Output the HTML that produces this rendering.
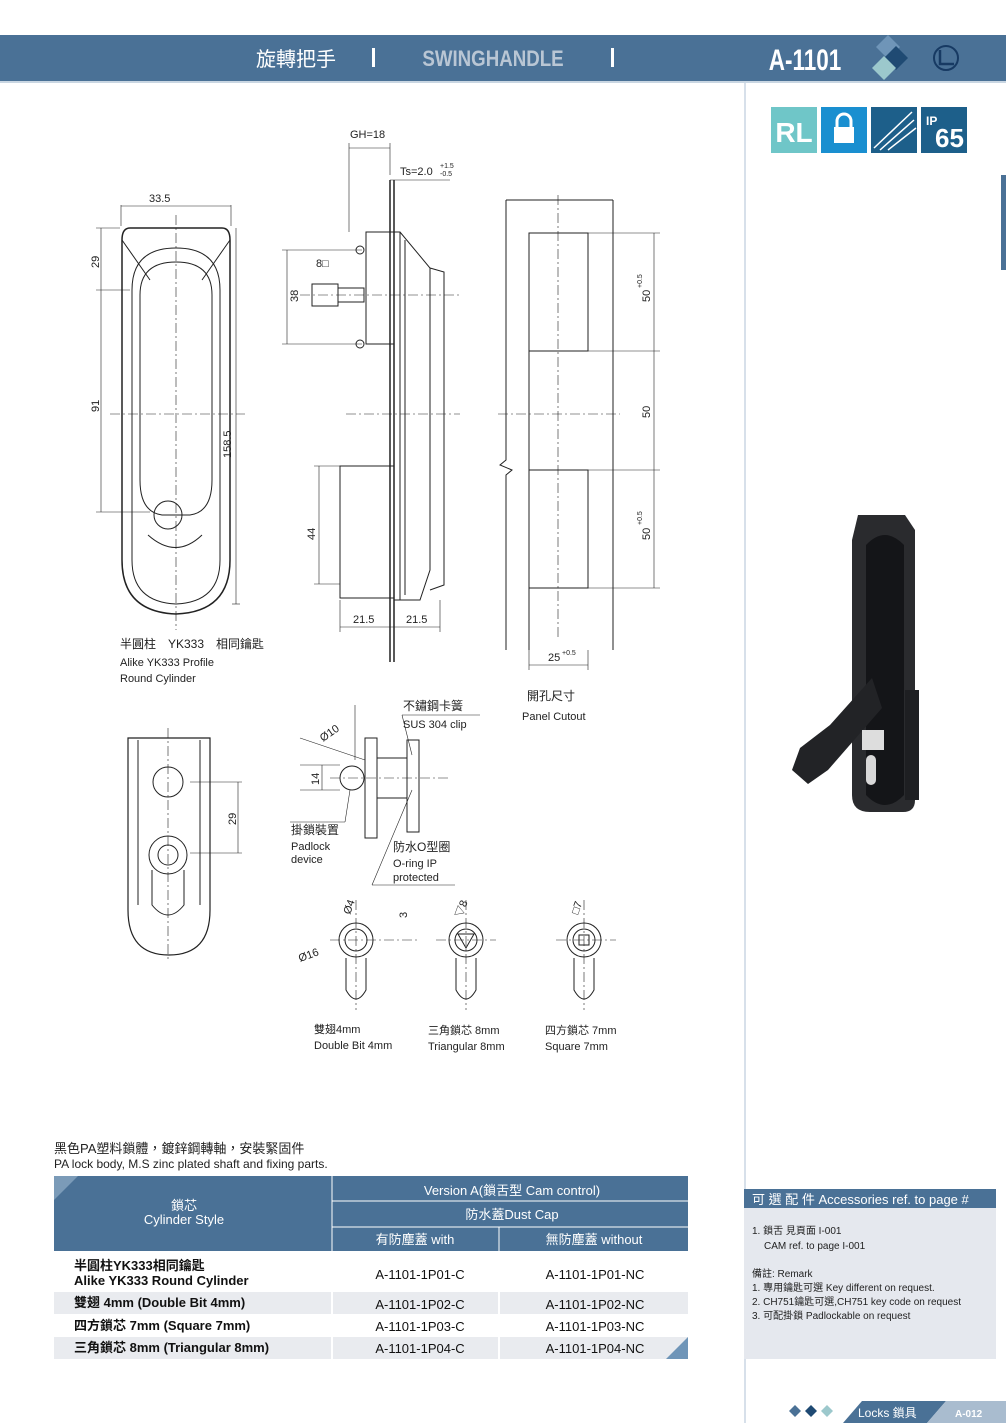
<!DOCTYPE html>
<html><head><meta charset="utf-8">
<style>
body{margin:0;background:#fff}
svg{display:block}
text{font-family:"Liberation Sans","Noto Sans CJK TC",sans-serif}
</style></head>
<body>
<svg width="1006" height="1423" viewBox="0 0 1006 1423" xmlns="http://www.w3.org/2000/svg">
<rect width="1006" height="1423" fill="#fff"/>
<!-- header -->
<rect x="0" y="35" width="1006" height="46" fill="#4a7196"/>
<rect x="0" y="81" width="1006" height="2" fill="#c9d6e2"/>
<text x="296" y="66" font-size="20" fill="#fff" text-anchor="middle">旋轉把手</text>
<rect x="372" y="48" width="3" height="19" fill="#fff"/>
<text x="493" y="66" font-size="22" font-weight="bold" fill="#b9c6d4" text-anchor="middle" transform="translate(493 0) scale(0.85 1) translate(-493 0)">SWINGHANDLE</text>
<rect x="611" y="48" width="3" height="19" fill="#fff"/>
<text x="805" y="70" font-size="30" font-weight="bold" fill="#fff" text-anchor="middle" transform="translate(805 0) scale(0.75 1) translate(-805 0)">A-1101</text>
<polygon points="888,35 900,47 888,59 876,47" fill="#6f95b8"/>
<polygon points="896,46 908,58 896,70 884,58" fill="#1f4a73"/>
<polygon points="884,56 896,68 884,80 872,68" fill="#9cc8cc"/>
<circle cx="946" cy="58" r="12" fill="none" stroke="#173a63" stroke-width="2"/>
<path d="M940 50 V64 H954" fill="none" stroke="#173a63" stroke-width="2.5"/>
<!-- right column divider -->
<rect x="744" y="83" width="2" height="1340" fill="#d7e0ea"/>
<rect x="1001" y="175" width="5" height="95" fill="#4a7196"/>
<!-- icons -->
<rect x="771" y="107" width="46" height="46" fill="#6fc6c8"/><text x="794" y="142" font-size="28" font-weight="bold" fill="#fff" text-anchor="middle">RL</text>
<rect x="821" y="107" width="46" height="46" fill="#1a8fd0"/>
<rect x="834" y="127" width="20" height="16" fill="#fff"/><path d="M837 127 V121 a7 7 0 0 1 14 0 V127" fill="none" stroke="#fff" stroke-width="3"/>
<rect x="871" y="107" width="46" height="46" fill="#1d5f8a"/>
<path d="M874 148 L912 112 M880 150 L914 120 M888 150 L916 128" stroke="#fff" stroke-width="1.5"/>
<rect x="921" y="107" width="46" height="46" fill="#1d5f8a"/><text x="926" y="125" font-size="12" font-weight="bold" fill="#fff">IP</text><text x="935" y="147" font-size="26" font-weight="bold" fill="#fff">65</text>

<g stroke="#222" fill="none" stroke-width="1">
<!-- front view -->
<path d="M122 240 Q122 228 130 228 H222 Q230 228 230 240 V560 Q230 612 176 614 Q122 612 122 560 Z" stroke-width="1.5"/>
<path d="M132 290 Q132 248 176 248 Q220 248 220 290 V560 Q220 602 176 604 Q132 602 132 560 Z"/>
<path d="M140 295 Q140 262 176 262 Q212 262 212 295 V480 Q212 512 190 515 H162 Q140 512 140 480 Z"/>
<path d="M122 240 L150 280 M230 240 L202 280"/>
<circle cx="168" cy="515" r="14"/>
<path d="M148 535 Q176 560 202 535"/>
<line x1="176" y1="215" x2="176" y2="630" stroke-dasharray="10 3 2 3" stroke-width="0.6"/>
<line x1="110" y1="414" x2="245" y2="414" stroke-dasharray="10 3 2 3" stroke-width="0.6"/>
<line x1="121" y1="205" x2="121" y2="226" stroke-width="0.6"/><line x1="231" y1="205" x2="231" y2="226" stroke-width="0.6"/>
<line x1="121" y1="206" x2="231" y2="206" stroke-width="0.6"/>
<line x1="96" y1="228" x2="120" y2="228" stroke-width="0.6"/><line x1="96" y1="290" x2="130" y2="290" stroke-width="0.6"/><line x1="96" y1="512" x2="150" y2="512" stroke-width="0.6"/>
<line x1="101" y1="228" x2="101" y2="512" stroke-width="0.6"/>
<line x1="232" y1="604" x2="240" y2="604" stroke-width="0.6"/><line x1="236" y1="228" x2="236" y2="604" stroke-width="0.6"/>
<!-- side view -->
<line x1="390" y1="180" x2="390" y2="662" stroke-width="1.5"/><line x1="394" y1="180" x2="394" y2="662" stroke-width="1.5"/>
<path d="M394 232 H400 L430 268 V570 L420 600 H394"/>
<path d="M400 232 V600 M405 240 V595"/>
<path d="M430 268 L444 272 V585 L430 590"/>
<rect x="366" y="232" width="28" height="112"/>
<rect x="340" y="466" width="54" height="132"/>
<rect x="312" y="284" width="26" height="22"/><rect x="338" y="288" width="26" height="14"/>
<circle cx="360" cy="250" r="4"/><circle cx="360" cy="344" r="4"/>
<line x1="300" y1="295" x2="460" y2="295" stroke-dasharray="10 3 2 3" stroke-width="0.6"/>
<line x1="346" y1="414" x2="460" y2="414" stroke-dasharray="10 3 2 3" stroke-width="0.6"/>
<line x1="349" y1="143" x2="349" y2="232" stroke-width="0.6"/><line x1="390" y1="143" x2="390" y2="175" stroke-width="0.6"/>
<line x1="349" y1="148" x2="390" y2="148" stroke-width="0.6"/>
<line x1="390" y1="180" x2="450" y2="180" stroke-width="0.6"/>
<line x1="282" y1="250" x2="362" y2="250" stroke-width="0.6"/><line x1="282" y1="344" x2="362" y2="344" stroke-width="0.6"/><line x1="287" y1="250" x2="287" y2="344" stroke-width="0.6"/>
<line x1="314" y1="466" x2="340" y2="466" stroke-width="0.6"/><line x1="314" y1="584" x2="340" y2="584" stroke-width="0.6"/><line x1="319" y1="466" x2="319" y2="584" stroke-width="0.6"/>
<line x1="340" y1="600" x2="340" y2="632" stroke-width="0.6"/><line x1="440" y1="600" x2="440" y2="632" stroke-width="0.6"/>
<line x1="340" y1="627" x2="440" y2="627" stroke-width="0.6"/>
<!-- panel cutout -->
<path d="M506 200 V460 L500 465 L512 470 L506 475 V650"/>
<line x1="506" y1="200" x2="613" y2="200"/><line x1="613" y1="200" x2="613" y2="650"/>
<rect x="529" y="233" width="59" height="118" fill="#fff"/>
<rect x="529" y="470" width="59" height="118" fill="#fff"/>
<line x1="529" y1="351" x2="529" y2="470"/><line x1="529" y1="588" x2="529" y2="650"/>
<line x1="498" y1="414" x2="620" y2="414" stroke-dasharray="10 3 2 3" stroke-width="0.6"/>
<line x1="558" y1="195" x2="558" y2="640" stroke-dasharray="10 3 2 3" stroke-width="0.6"/>
<line x1="588" y1="233" x2="660" y2="233" stroke-width="0.6"/><line x1="588" y1="351" x2="660" y2="351" stroke-width="0.6"/><line x1="588" y1="470" x2="660" y2="470" stroke-width="0.6"/><line x1="588" y1="588" x2="660" y2="588" stroke-width="0.6"/>
<line x1="654" y1="233" x2="654" y2="588" stroke-width="0.6"/>
<line x1="529" y1="650" x2="529" y2="670" stroke-width="0.6"/><line x1="588" y1="650" x2="588" y2="670" stroke-width="0.6"/><line x1="529" y1="665" x2="588" y2="665" stroke-width="0.6"/>
<!-- lower left view -->
<path d="M128 738 H210 V910 Q210 955 169 955 Q128 955 128 910 Z" stroke-width="1.2"/>
<path d="M138 740 V905 M200 740 V905"/>
<circle cx="168" cy="782" r="15"/><circle cx="168" cy="855" r="19"/><circle cx="168" cy="855" r="10"/>
<path d="M152 870 V905 Q168 925 184 905 V870"/>
<line x1="168" y1="728" x2="168" y2="960" stroke-dasharray="10 3 2 3" stroke-width="0.6"/>
<line x1="190" y1="782" x2="242" y2="782" stroke-width="0.6"/><line x1="190" y1="853" x2="242" y2="853" stroke-width="0.6"/><line x1="238" y1="782" x2="238" y2="853" stroke-width="0.6"/>
<!-- padlock detail -->
<circle cx="352" cy="778" r="12"/>
<rect x="365" y="738" width="12" height="100"/><rect x="377" y="758" width="30" height="40"/>
<rect x="407" y="740" width="12" height="92"/>
<line x1="330" y1="778" x2="450" y2="778" stroke-dasharray="10 3 2 3" stroke-width="0.6"/>
<line x1="300" y1="765" x2="340" y2="765" stroke-width="0.6"/><line x1="300" y1="790" x2="340" y2="790" stroke-width="0.6"/><line x1="322" y1="765" x2="322" y2="790" stroke-width="0.6"/>
<line x1="300" y1="738" x2="365" y2="760" stroke-width="0.6"/>
<line x1="355" y1="705" x2="355" y2="760" stroke-width="0.6"/>
<line x1="402" y1="715" x2="480" y2="715" stroke-width="0.6"/><line x1="402" y1="715" x2="412" y2="755" stroke-width="0.6"/>
<line x1="290" y1="822" x2="345" y2="822" stroke-width="0.6"/><line x1="345" y1="822" x2="350" y2="790" stroke-width="0.6"/>
<line x1="372" y1="885" x2="455" y2="885" stroke-width="0.6"/><line x1="372" y1="885" x2="412" y2="790" stroke-width="0.6"/>
<!-- cylinder types -->
<g>
<circle cx="356" cy="940" r="17"/><circle cx="356" cy="940" r="11"/><path d="M346 958 V990 Q356 1008 366 990 V958"/>
<line x1="356" y1="900" x2="356" y2="1010" stroke-dasharray="10 3 2 3" stroke-width="0.6"/><line x1="330" y1="940" x2="420" y2="940" stroke-dasharray="10 3 2 3" stroke-width="0.6"/>
<circle cx="466" cy="940" r="17"/><circle cx="466" cy="940" r="11"/><path d="M458 934 H474 L466 948 Z"/><path d="M456 958 V990 Q466 1008 476 990 V958"/>
<line x1="466" y1="900" x2="466" y2="1010" stroke-dasharray="10 3 2 3" stroke-width="0.6"/><line x1="436" y1="940" x2="496" y2="940" stroke-dasharray="10 3 2 3" stroke-width="0.6"/>
<circle cx="584" cy="940" r="17"/><circle cx="584" cy="940" r="11"/><rect x="579" y="935" width="10" height="10"/><path d="M574 958 V990 Q584 1008 594 990 V958"/>
<line x1="584" y1="900" x2="584" y2="1010" stroke-dasharray="10 3 2 3" stroke-width="0.6"/><line x1="556" y1="940" x2="616" y2="940" stroke-dasharray="10 3 2 3" stroke-width="0.6"/>
</g>
</g>
<!-- drawing labels -->
<g font-size="11" fill="#222">
<text x="149" y="202">33.5</text>
<text x="350" y="138">GH=18</text>
<text x="400" y="175">Ts=2.0</text><text x="440" y="168" font-size="7">+1.5</text><text x="440" y="176" font-size="7">-0.5</text>
<text x="316" y="267">8□</text>
<text x="353" y="623">21.5</text><text x="406" y="623">21.5</text>
<text x="548" y="661">25</text><text x="562" y="655" font-size="7">+0.5</text>
<text transform="translate(99 268) rotate(-90)">29</text>
<text transform="translate(99 412) rotate(-90)">91</text>
<text transform="translate(231 458) rotate(-90)">158.5</text>
<text transform="translate(298 302) rotate(-90)">38</text>
<text transform="translate(315 540) rotate(-90)">44</text>
<text transform="translate(650 302) rotate(-90)">50</text><text transform="translate(642 288) rotate(-90)" font-size="7">+0.5</text>
<text transform="translate(650 418) rotate(-90)">50</text>
<text transform="translate(650 540) rotate(-90)">50</text><text transform="translate(642 525) rotate(-90)" font-size="7">+0.5</text>
<text transform="translate(236 825) rotate(-90)">29</text>
<text transform="translate(319 785) rotate(-90)">14</text>
<text transform="translate(323 742) rotate(-35)">Ø10</text>
<text transform="translate(350 915) rotate(-70)">Ø4</text>
<text transform="translate(300 962) rotate(-20)">Ø16</text>
<text transform="translate(407 918) rotate(-90)">3</text>
<text transform="translate(462 918) rotate(-70)">▽8</text>
<text transform="translate(578 915) rotate(-70)">□7</text>
<text x="120" y="648" font-size="12">半圓柱　YK333　相同鑰匙</text>
<text x="120" y="666">Alike YK333 Profile</text>
<text x="120" y="682">Round Cylinder</text>
<text x="403" y="710" font-size="12">不鏽鋼卡簧</text>
<text x="403" y="728">SUS 304 clip</text>
<text x="527" y="700" font-size="12">開孔尺寸</text>
<text x="522" y="720">Panel Cutout</text>
<text x="291" y="834" font-size="12">掛鎖裝置</text>
<text x="291" y="850">Padlock</text><text x="291" y="863">device</text>
<text x="393" y="851" font-size="12">防水O型圈</text>
<text x="393" y="867">O-ring IP</text><text x="393" y="881">protected</text>
<text x="314" y="1033">雙翅4mm</text><text x="314" y="1049">Double Bit 4mm</text>
<text x="428" y="1034">三角鎖芯 8mm</text><text x="428" y="1050">Triangular 8mm</text>
<text x="545" y="1034">四方鎖芯 7mm</text><text x="545" y="1050">Square 7mm</text>
</g>
<!-- product photo -->
<g>
<path d="M858 515 H905 L915 530 V800 Q915 812 903 812 H870 Q852 812 852 795 V540 Z" fill="#2a2b2e"/>
<rect x="905" y="690" width="14" height="110" fill="#1e1f22"/>
<path d="M866 545 Q885 525 904 545 V795 Q885 815 866 795 Z" fill="#141518"/>
<path d="M872 678 L830 725 L800 748 L792 770 L808 784 L828 770 L882 708 Z" fill="#222326"/>
<rect x="862" y="730" width="22" height="20" fill="#ddd"/>
<rect x="866" y="755" width="10" height="30" rx="5" fill="#d8d8d8"/>
</g>
<!-- description -->
<text x="54" y="1153" font-size="13" fill="#222">黑色PA塑料鎖體，鍍鋅鋼轉軸，安裝緊固件</text>
<text x="54" y="1168" font-size="12" fill="#222">PA lock body, M.S zinc plated shaft and fixing parts.</text>
<!-- table -->
<rect x="54" y="1176" width="634" height="75" fill="#4a7196"/>
<polygon points="54,1176 78,1176 54,1200" fill="#7b9bb8"/>
<line x1="332" y1="1176" x2="332" y2="1251" stroke="#fff"/>
<line x1="332" y1="1201" x2="688" y2="1201" stroke="#fff"/>
<line x1="332" y1="1227" x2="688" y2="1227" stroke="#fff"/>
<line x1="499" y1="1227" x2="499" y2="1251" stroke="#fff"/>
<g fill="#fff" font-size="13" text-anchor="middle">
<text x="184" y="1210">鎖芯</text><text x="184" y="1224">Cylinder Style</text>
<text x="512" y="1195">Version A(鎖舌型 Cam control)</text>
<text x="512" y="1219">防水蓋Dust Cap</text>
<text x="415" y="1244">有防塵蓋 with</text>
<text x="594" y="1244">無防塵蓋 without</text>
</g>
<rect x="54" y="1292" width="634" height="22" fill="#e9ebef"/>
<rect x="54" y="1337" width="634" height="22" fill="#e9ebef"/>
<line x1="332" y1="1251" x2="332" y2="1359" stroke="#fff" stroke-width="2"/>
<line x1="499" y1="1251" x2="499" y2="1359" stroke="#fff" stroke-width="2"/>
<polygon points="688,1337 688,1359 666,1359" fill="#6f95b8"/>
<g font-size="13" font-weight="bold" fill="#111">
<text x="74" y="1270">半圓柱YK333相同鑰匙</text><text x="74" y="1285">Alike YK333 Round Cylinder</text>
<text x="74" y="1307">雙翅 4mm (Double Bit 4mm)</text>
<text x="74" y="1330">四方鎖芯 7mm (Square 7mm)</text>
<text x="74" y="1352">三角鎖芯 8mm (Triangular 8mm)</text>
<g text-anchor="middle" font-weight="normal">
<text x="420" y="1279">A-1101-1P01-C</text><text x="595" y="1279">A-1101-1P01-NC</text>
<text x="420" y="1309">A-1101-1P02-C</text><text x="595" y="1309">A-1101-1P02-NC</text>
<text x="420" y="1331">A-1101-1P03-C</text><text x="595" y="1331">A-1101-1P03-NC</text>
<text x="420" y="1353">A-1101-1P04-C</text><text x="595" y="1353">A-1101-1P04-NC</text>
</g></g>
<!-- accessories -->
<rect x="744" y="1189" width="252" height="170" fill="#e5e8ee"/>
<rect x="744" y="1189" width="252" height="19" fill="#4a7196"/>
<text x="752" y="1204" font-size="13" fill="#fff">可 選 配 件 Accessories ref. to page #</text>
<g font-size="10" fill="#222">
<text x="752" y="1234">1. 鎖舌 見頁面 I-001</text>
<text x="764" y="1249">CAM  ref. to page I-001</text>
<text x="752" y="1277">備註: Remark</text>
<text x="752" y="1291">1. 專用鑰匙可選 Key different on request.</text>
<text x="752" y="1305">2. CH751鑰匙可選,CH751 key code on request</text>
<text x="752" y="1319">3. 可配掛鎖   Padlockable on request</text>
</g>
<!-- footer -->
<polygon points="795,1405 801,1411 795,1417 789,1411" fill="#4a7196"/>
<polygon points="811,1405 817,1411 811,1417 805,1411" fill="#1f4a73"/>
<polygon points="827,1405 833,1411 827,1417 821,1411" fill="#9cc8cc"/>
<polygon points="843,1423 862,1401 946,1401 927,1423" fill="#4a7196"/>
<polygon points="927,1423 946,1401 1006,1401 1006,1423" fill="#a9bccf"/>
<text x="858" y="1417" font-size="12" fill="#fff">Locks 鎖具</text>
<text x="955" y="1417" font-size="10" font-weight="bold" fill="#fff">A-012</text>
</svg>
</body></html>
